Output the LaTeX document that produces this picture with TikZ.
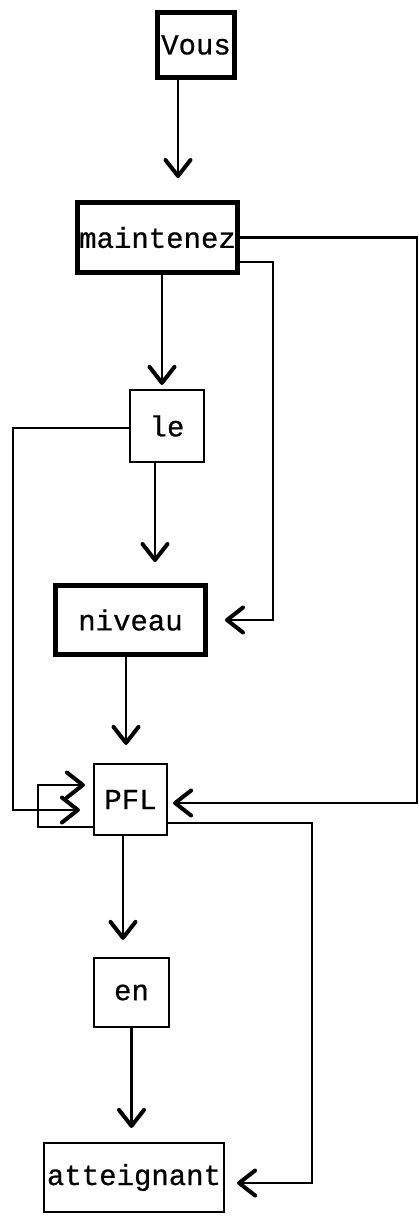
\documentclass[tikz,border=0pt]{standalone}
\usepackage{fontspec}
\newfontfamily\boxfont{Liberation Mono}[FakeBold=0.6]
\usetikzlibrary{arrows.meta}
\tikzset{
  word/.style={draw,line width=2.2pt,inner sep=0pt,font=\boxfont\fontsize{29}{31}\selectfont},
  strong/.style={word,line width=5pt},
  arr/.style={line width=2.2pt,-{Straight Barb[length=16pt,width=25pt,line width=4pt,round]}},
}
\begin{document}
\begin{tikzpicture}[x=1pt,y=-1pt]
\useasboundingbox (0,0) rectangle (419,1216);
% boxes
\node[strong,minimum width=77pt,minimum height=65pt] (vous) at (196,45) {Vous};
\node[strong,minimum width=160pt,minimum height=70pt] (maintenez) at (157.5,237.5) {maintenez};
\node[word,minimum width=74pt,minimum height=72pt] (le) at (167,426) {le};
\node[strong,minimum width=150pt,minimum height=69pt] (niveau) at (130.5,620) {niveau};
\node[word,minimum width=73pt,minimum height=71pt] (pfl) at (130.5,799.5) {PFL};
\node[word,minimum width=75pt,minimum height=69pt] (en) at (131.5,992.5) {en};
\node[word,minimum width=180pt,minimum height=69pt] (atteignant) at (134,1177.5) {atteignant};
% columns of the side lines
\coordinate (edge) at (417,0);
\coordinate (mid) at (273,0);
\coordinate (leftx) at (13,0);
\coordinate (loopx) at (38,0);
\coordinate (drop) at (312,0);
% main chain
\draw[arr,shorten >=22pt] ([xshift=-18pt]vous.south) -- ([xshift=-18pt]vous.south |- maintenez.north);
\draw[arr,shorten >=4pt] ([xshift=4.5pt]maintenez.south) -- ([xshift=4.5pt]maintenez.south |- le.north);
\draw[arr,shorten >=21pt] ([xshift=-12pt]le.south) -- ([xshift=-12pt]le.south |- niveau.north);
\draw[arr,shorten >=18pt] ([xshift=-4.5pt]niveau.south) -- ([xshift=-4.5pt]niveau.south |- pfl.north);
\draw[arr,shorten >=17pt] ([xshift=-7.5pt]pfl.south) -- ([xshift=-7.5pt]pfl.south |- en.north);
\draw[arr,shorten >=14pt] (en.south) -- (en.south |- atteignant.north);
% side links
\draw[arr,shorten >=5pt] (maintenez.east) -- (maintenez.east -| edge) |- ([yshift=-3.5pt]pfl.east);
\draw[arr,shorten >=17pt] ([yshift=-24.5pt]maintenez.east) -- ([yshift=-24.5pt]maintenez.east -| mid) |- (niveau.east);
\draw[arr,shorten >=13pt] ([yshift=-2pt]le.west) -- ([yshift=-2pt]le.west -| leftx) |- ([yshift=-10.5pt]pfl.west);
\draw[arr,shorten >=8pt] ([yshift=-27.5pt]pfl.west) -- ([yshift=-27.5pt]pfl.west -| loopx) |- ([yshift=14.5pt]pfl.west);
\draw[arr,shorten >=12pt] ([yshift=-23.5pt]pfl.east) -- ([yshift=-23.5pt]pfl.east -| drop) |- ([yshift=-5.5pt]atteignant.east);
\end{tikzpicture}
\end{document}
